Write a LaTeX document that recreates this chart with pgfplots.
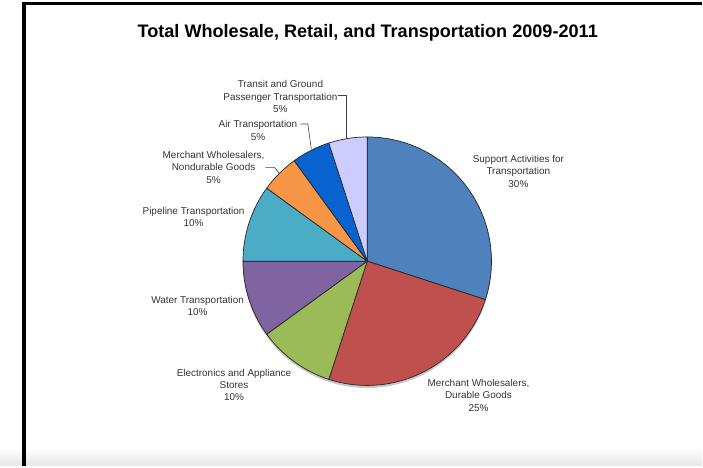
\documentclass[border=0pt]{standalone}
\usepackage{fontspec}
\setmainfont{Liberation Sans}
\usepackage{pgfplots}
\usepackage{pgfplotstable}
\pgfplotsset{compat=1.18}

\definecolor{c1}{HTML}{4F81BD}
\definecolor{c2}{HTML}{C0504D}
\definecolor{c3}{HTML}{9BBB59}
\definecolor{c4}{HTML}{8064A2}
\definecolor{c5}{HTML}{4BACC6}
\definecolor{c6}{HTML}{F79646}
\definecolor{c7}{HTML}{0862CF}
\definecolor{c8}{HTML}{CCCCFF}
\definecolor{txt}{HTML}{333333}

\tikzset{lab/.style={font=\fontsize{10}{12.3}\selectfont, text=txt, align=center, inner sep=0pt}}

% share (%) of each slice, clockwise from the top
\pgfplotstableread{
value color
30 c1
25 c2
10 c3
10 c4
10 c5
5  c6
5  c7
5  c8
}\piedata

\begin{document}
\begin{tikzpicture}
\begin{axis}[
  scale only axis, width=703bp, height=467bp,
  xmin=0, xmax=703, ymin=0, ymax=467, y dir=reverse,
  hide axis, clip=false,
]
\pgfplotsextra{
  \shade[top color=white, bottom color=black!10] (axis cs:0,449) rectangle (axis cs:703,467);
  \draw[line width=3bp, black] (axis cs:22.5,3.5) -- (axis cs:703,3.5);
  \draw[line width=3.5bp, black] (axis cs:24,2) -- (axis cs:24,467);
  \fill[black!22] (axis cs:368,264.5) circle[radius=124.5bp];
  \pgfplotstablegetrowsof{\piedata}
  \pgfmathtruncatemacro{\lastrow}{\pgfplotsretval-1}
  \gdef\curang{90}
  \foreach \i in {0,...,\lastrow}{
    \pgfplotstablegetelem{\i}{value}\of\piedata
    \pgfmathsetmacro{\endang}{\curang-3.6*\pgfplotsretval}
    \pgfplotstablegetelem{\i}{color}\of\piedata
    \edef\slicecol{\pgfplotsretval}
    \filldraw[fill=\slicecol, draw=black!85, line width=0.7bp, line join=round]
      (axis cs:368,262) -- ++(\curang:124.5bp)
      arc[start angle=\curang, end angle=\endang, radius=124.5bp] -- cycle;
    \xdef\curang{\endang}
  }
  % leader lines
  \draw[black!75, line width=0.6bp] (axis cs:339,96) -- (axis cs:347.5,96) -- (axis cs:347.5,140);
  \draw[black!75, line width=0.6bp] (axis cs:301,124.5) -- (axis cs:308.5,124.5) -- (axis cs:312,150);
  \draw[black!75, line width=0.6bp] (axis cs:266,168) -- (axis cs:275,168) -- (axis cs:280,174);
}
\node[font=\bfseries\fontsize{18.2}{20}\selectfont, inner sep=0pt] at (axis cs:368.5,33) {Total Wholesale, Retail, and Transportation 2009-2011};
\node[lab] at (axis cs:281,97) {Transit and Ground\\Passenger Transportation\\5\%};
\node[lab] at (axis cs:258.5,131) {Air Transportation\\5\%};
\node[lab] at (axis cs:214,168) {Merchant Wholesalers,\\Nondurable Goods\\5\%};
\node[lab] at (axis cs:194,218) {Pipeline Transportation\\10\%};
\node[lab] at (axis cs:198,306.5) {Water Transportation\\10\%};
\node[lab] at (axis cs:234.5,386) {Electronics and Appliance\\Stores\\10\%};
\node[lab] at (axis cs:519.5,172) {Support Activities for\\Transportation\\30\%};
\node[lab] at (axis cs:479.5,396.5) {Merchant Wholesalers,\\Durable Goods\\25\%};
\end{axis}
\end{tikzpicture}
\end{document}
